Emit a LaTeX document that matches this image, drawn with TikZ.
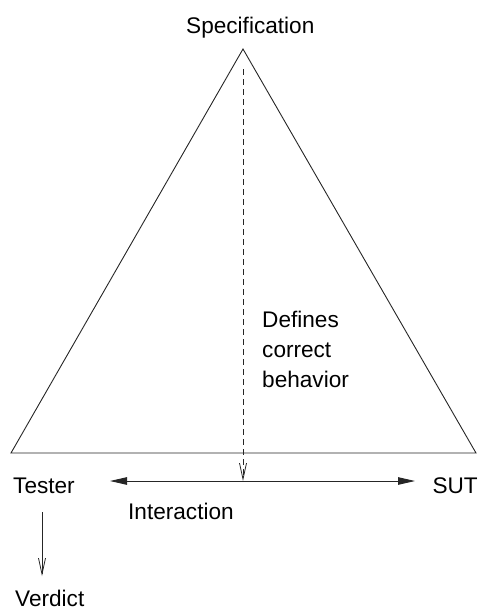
\documentclass[tikz,border=0pt]{standalone}
\usepackage{fontspec}
\setmainfont{Liberation Sans}
\usetikzlibrary{arrows.meta}
\tikzset{
  lbl/.style={inner sep=0pt, anchor=base west, font=\fontsize{22.6}{30}\selectfont},
  edge/.style={line width=0.9pt, black!85},
  openhead/.style={-{Straight Barb[length=16pt,width=7pt,line width=0.8pt]}},
  fillhead/.style={{Triangle[length=17pt,width=7.5pt]}-{Triangle[length=17pt,width=7.5pt]}}
}
\begin{document}
\begin{tikzpicture}[x=1pt,y=-1pt]
  \useasboundingbox (0,0) rectangle (482,608);
  % triangle corners
  \coordinate (top) at (243,49);
  \coordinate (bl) at (11,453);
  \coordinate (br) at (476,453);
  \draw[edge, line join=miter] (bl) -- (top) -- (br) -- cycle;
  % labels
  \node[lbl] (spec) at (186,33) {Specification};
  \node[lbl] (tester) at (13,493) {Tester};
  \node[lbl, anchor=base east] (sut) at (478,493) {SUT};
  \node[lbl] (inter) at (128,519) {Interaction};
  \node[lbl] (verdict) at (15,606) {Verdict};
  % multi-line label: its base is the last line's baseline
  \node[lbl, align=left] (defines) at (262,387) {Defines\\correct\\behavior};
  % interaction arrow
  \coordinate (il) at (110,481);
  \coordinate (ir) at (415,481);
  \coordinate (imid) at (243,481);
  \draw[edge, fillhead] (il) -- (ir);
  % dashed arrow from specification down
  \coordinate (dtop) at (243,69);
  \draw[edge, dash pattern=on 6pt off 4pt, openhead] (dtop) -- (imid);
  % verdict arrow
  \coordinate (vtop) at (42,512);
  \coordinate (vbot) at (42,576);
  \draw[edge, openhead] (vtop) -- (vbot);
\end{tikzpicture}
\end{document}
